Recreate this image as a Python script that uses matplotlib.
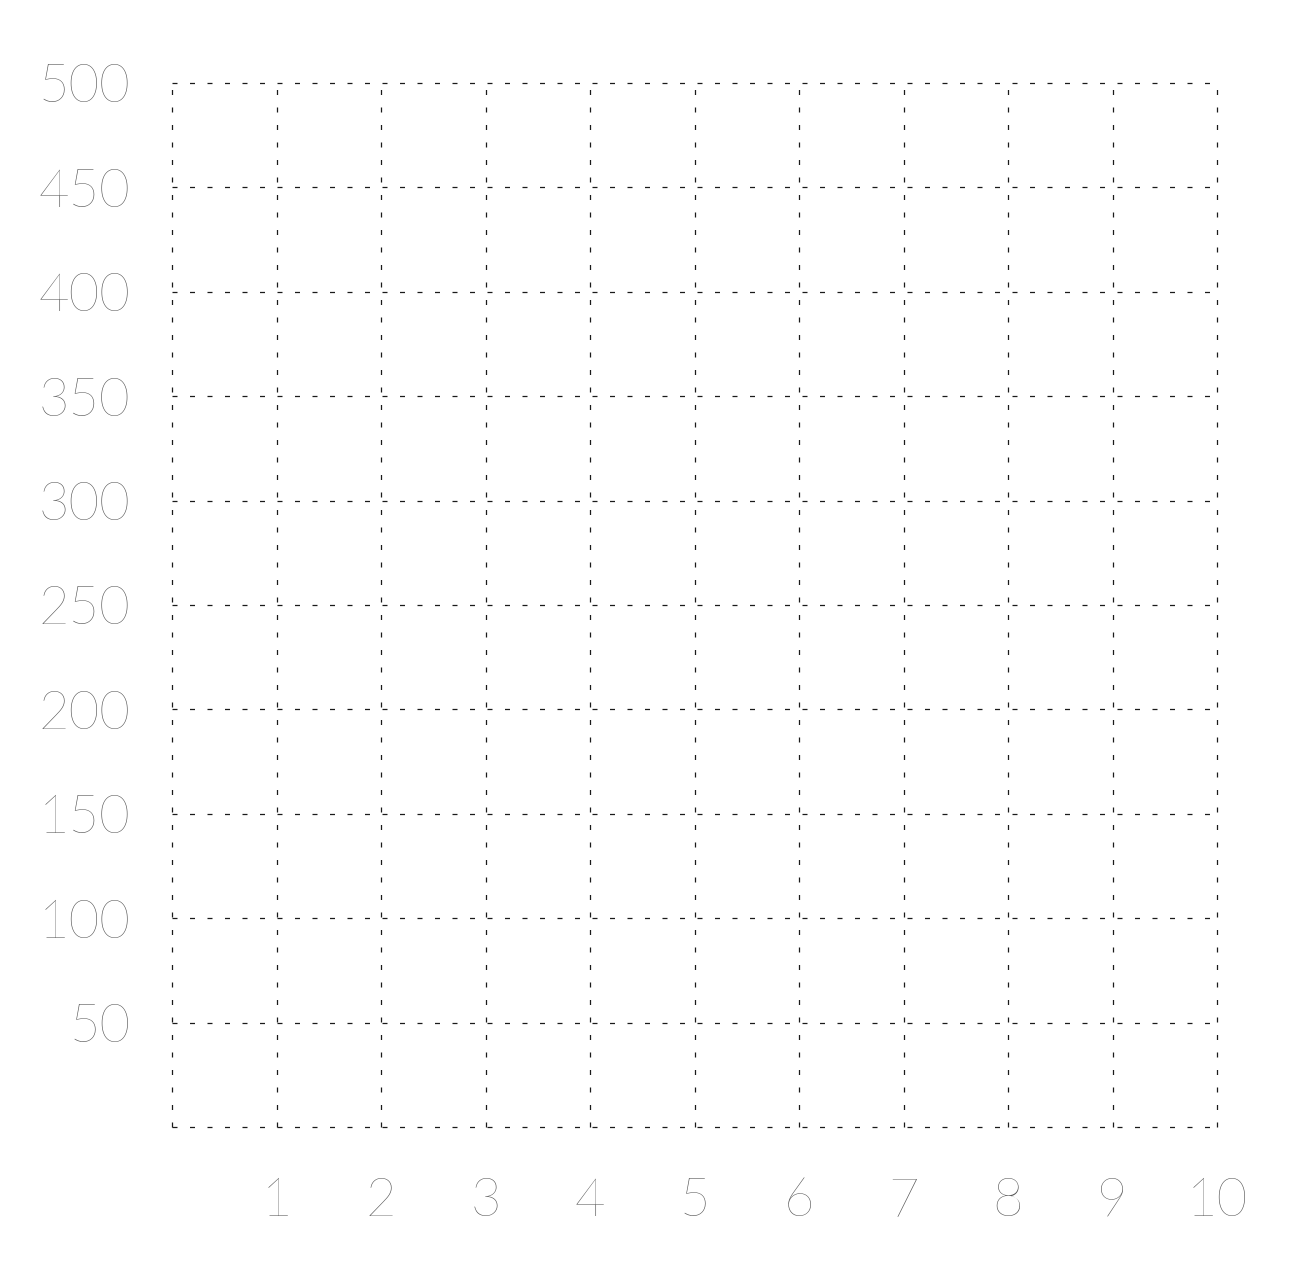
import matplotlib.pyplot as plt

# axis ticks and labels
x_ticks = [0, 1, 2, 3, 4, 5, 6, 7, 8, 9, 10]
x_labels = ["", "1", "2", "3", "4", "5", "6", "7", "8", "9", "10"]
y_ticks = [0, 50, 100, 150, 200, 250, 300, 350, 400, 450, 500]
y_labels = ["", "50", "100", "150", "200", "250", "300", "350", "400", "450", "500"]

W, H = 1300, 1284
fig = plt.figure(figsize=(W / 100, H / 100), dpi=100)
ax = fig.add_axes([172 / W, 1 - 1127 / H, (1217 - 172) / W, (1127 - 83) / H])

ax.set_xlim(x_ticks[0], x_ticks[-1])
ax.set_ylim(y_ticks[0], y_ticks[-1])
ax.set_xticks(x_ticks)
ax.set_yticks(y_ticks)
ax.set_xticklabels(x_labels)
ax.set_yticklabels(y_labels)

# dashed grid, including the outer frame
dash = (0, (4, 10))
for x in x_ticks:
    ax.axvline(x, color="#1a1a1a", linewidth=0.9, linestyle=dash, clip_on=False)
for y in y_ticks:
    ax.axhline(y, color="#1a1a1a", linewidth=0.9, linestyle=dash, clip_on=False)

for s in ax.spines.values():
    s.set_visible(False)

ax.tick_params(axis="both", length=0, labelcolor="#555555", labelsize=38)
ax.tick_params(axis="y", pad=30)
ax.tick_params(axis="x", pad=36)
for lab in ax.get_xticklabels() + ax.get_yticklabels():
    lab.set_fontfamily(["Lato", "Open Sans", "DejaVu Sans"])
    lab.set_fontweight(200)

fig.savefig("out.png", dpi=100, facecolor="white")
